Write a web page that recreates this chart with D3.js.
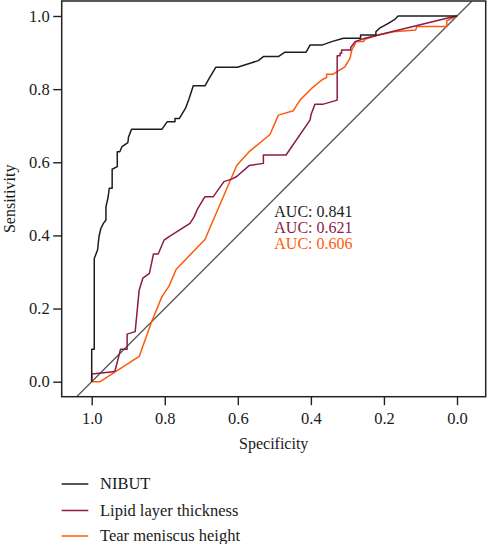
<!DOCTYPE html>
<html>
<head>
<meta charset="utf-8">
<script src="https://cdn.jsdelivr.net/npm/d3@7"></script>
<style>
  html, body { margin: 0; padding: 0; background: #fff; }
  svg text { font-family: "Liberation Serif", "Times New Roman", serif; }
</style>
</head>
<body>
<svg id="chart" width="487" height="544"></svg>
<script>
// ---- Data ----
const seriesNames = ["NIBUT", "Lipid layer thickness", "Tear meniscus height"];
const aucLabels = ["AUC: 0.841", "AUC: 0.621", "AUC: 0.606"];
const colors = ["#1c1c22", "#8c1a4b", "#ff5a0a"];

const nibutSpec = [1.000,1.000,0.993,0.993,0.984,0.980,0.975,0.968,0.961,0.961,0.955,0.952,0.944,0.944,0.930,0.930,0.923,0.917,0.901,0.899,0.891,0.808,0.793,0.772,0.772,0.760,0.743,0.733,0.722,0.690,0.678,0.660,0.601,0.562,0.544,0.530,0.489,0.471,0.413,0.402,0.368,0.343,0.311,0.264,0.264,0.222,0.222,0.213,0.188,0.170,0.161,0.000];
const nibutSens = [0.000,0.089,0.089,0.337,0.360,0.397,0.419,0.433,0.442,0.478,0.505,0.529,0.529,0.581,0.588,0.629,0.629,0.643,0.654,0.670,0.690,0.690,0.711,0.711,0.720,0.720,0.748,0.775,0.809,0.809,0.830,0.860,0.860,0.872,0.878,0.889,0.889,0.901,0.901,0.921,0.921,0.930,0.939,0.939,0.948,0.948,0.957,0.966,0.980,0.991,1.000,1.000];

const lipidSpec = [1.000,1.000,0.941,0.936,0.921,0.903,0.903,0.881,0.870,0.860,0.842,0.831,0.818,0.802,0.788,0.731,0.720,0.711,0.690,0.667,0.638,0.617,0.603,0.569,0.530,0.530,0.468,0.402,0.400,0.389,0.366,0.328,0.328,0.320,0.320,0.316,0.316,0.291,0.291,0.279,0.252,0.028,0.000];
const lipidSens = [0.000,0.021,0.027,0.030,0.089,0.089,0.130,0.137,0.251,0.283,0.296,0.349,0.349,0.387,0.397,0.433,0.450,0.471,0.506,0.506,0.547,0.554,0.561,0.591,0.597,0.620,0.620,0.716,0.729,0.759,0.759,0.770,0.891,0.891,0.898,0.898,0.907,0.907,0.914,0.930,0.939,0.994,1.000];

const tearSpec = [1.000,0.977,0.870,0.836,0.808,0.788,0.769,0.690,0.603,0.569,0.512,0.489,0.448,0.430,0.398,0.370,0.357,0.357,0.339,0.325,0.307,0.293,0.288,0.276,0.256,0.252,0.215,0.174,0.113,0.110,0.028,0.028,0.000];
const tearSens = [0.000,0.000,0.069,0.164,0.232,0.262,0.307,0.389,0.591,0.629,0.676,0.729,0.741,0.770,0.802,0.825,0.832,0.841,0.841,0.850,0.861,0.884,0.907,0.930,0.930,0.936,0.948,0.957,0.962,0.971,0.971,0.987,1.000];

const tickValues = [1.0, 0.8, 0.6, 0.4, 0.2, 0.0];

// ---- Layout ----
const svg = d3.select("#chart");
const box = { left: 61.7, right: 485.7, top: 1, bottom: 396.7 };
const x = d3.scaleLinear().domain([1, 0]).range([91.7, 457]);
const y = d3.scaleLinear().domain([0, 1]).range([381.7, 16]);

svg.append("defs").append("clipPath").attr("id", "plotclip")
  .append("rect")
  .attr("x", box.left).attr("y", box.top)
  .attr("width", box.right - box.left).attr("height", box.bottom - box.top);

const plot = svg.append("g").attr("clip-path", "url(#plotclip)");

// diagonal reference line (sens = 1 - spec), extended across plot
plot.append("line")
  .attr("x1", x(1.2)).attr("y1", y(-0.2))
  .attr("x2", x(-0.2)).attr("y2", y(1.2))
  .attr("stroke", "#5a5a5a").attr("stroke-width", 1.4);

const series = [
  { spec: nibutSpec, sens: nibutSens },
  { spec: lipidSpec, sens: lipidSens },
  { spec: tearSpec, sens: tearSens }
];

const line = d3.line().x(d => x(d[0])).y(d => y(d[1]));

// draw in reverse so NIBUT on top
[2, 1, 0].forEach(i => {
  const s = series[i];
  const pts = s.spec.map((v, j) => [v, s.sens[j]]);
  plot.append("path")
    .attr("d", line(pts))
    .attr("fill", "none")
    .attr("stroke", colors[i])
    .attr("stroke-width", 1.5)
    .attr("stroke-linejoin", "round");
});

// box
svg.append("rect")
  .attr("x", box.left).attr("y", box.top)
  .attr("width", box.right - box.left).attr("height", box.bottom - box.top)
  .attr("fill", "none").attr("stroke", "#222").attr("stroke-width", 1.5);

// axes
const yAxis = d3.axisLeft(y).tickValues(tickValues).tickFormat(d3.format(".1f")).tickSize(8.5).tickPadding(3.5);
const gy = svg.append("g").attr("transform", `translate(${box.left},0)`).call(yAxis);
gy.select(".domain").remove();
gy.selectAll("line").attr("stroke", "#222").attr("stroke-width", 1.4);
gy.selectAll("text").attr("font-size", 16.5).attr("fill", "#1a1a1a")
  .attr("font-family", "'Liberation Serif', serif");

const xAxis = d3.axisBottom(x).tickValues(tickValues).tickFormat(d3.format(".1f")).tickSize(8.5).tickPadding(7.5);
const gx = svg.append("g").attr("transform", `translate(0,${box.bottom})`).call(xAxis);
gx.select(".domain").remove();
gx.selectAll("line").attr("stroke", "#222").attr("stroke-width", 1.4);
gx.selectAll("text").attr("font-size", 16.5).attr("fill", "#1a1a1a")
  .attr("font-family", "'Liberation Serif', serif");

// axis titles
svg.append("text")
  .attr("x", (box.left + box.right) / 2).attr("y", 448.5)
  .attr("text-anchor", "middle").attr("font-size", 16).attr("fill", "#1a1a1a")
  .text("Specificity");

svg.append("text")
  .attr("transform", `translate(15,${(box.top + box.bottom) / 2}) rotate(-90)`)
  .attr("text-anchor", "middle").attr("font-size", 16).attr("fill", "#1a1a1a")
  .text("Sensitivity");

// AUC labels
const aucY = [217.3, 233.3, 249];
aucLabels.forEach((t, i) => {
  svg.append("text")
    .attr("x", 274.3).attr("y", aucY[i])
    .attr("font-size", 16).attr("fill", colors[i])
    .text(t);
});

// legend
const legY = [484, 510.5, 536];
const legTextY = [489.3, 516, 540.7];
seriesNames.forEach((n, i) => {
  svg.append("line")
    .attr("x1", 61.7).attr("x2", 88.3)
    .attr("y1", legY[i]).attr("y2", legY[i])
    .attr("stroke", colors[i]).attr("stroke-width", 1.5);
  svg.append("text")
    .attr("x", 100).attr("y", legTextY[i])
    .attr("font-size", 16.5).attr("fill", "#1a1a1a")
    .text(n);
});
</script>
</body>
</html>
